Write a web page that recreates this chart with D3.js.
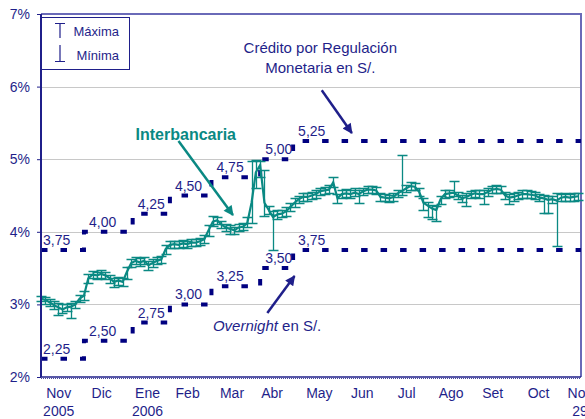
<!DOCTYPE html>
<html>
<head>
<meta charset="utf-8">
<script src="https://cdn.jsdelivr.net/npm/d3@7"></script>
<style>
  html, body { margin: 0; padding: 0; background: #fff; }
  svg { display: block; font-family: "Liberation Sans", Arial, sans-serif; }
</style>
</head>
<body>
<div id="chart"></div>
<script>
// ---------------------------------------------------------
// DATA – tasa interbancaria (cada 3 días) y corredor del BCRP
// ---------------------------------------------------------
const firstDay = "2005-11-18";
const stepDays = 3;

const interbank = [
  3.08, 3.06, 3.03, 2.99, 2.96, 2.93, 2.96, 2.97, 3.00, 3.08,
  3.12, 3.36, 3.41, 3.40, 3.42, 3.40, 3.36, 3.31, 3.33, 3.31,
  3.45, 3.57, 3.60, 3.58, 3.60, 3.54, 3.57, 3.60, 3.62, 3.76,
  3.82, 3.83, 3.82, 3.84, 3.83, 3.85, 3.85, 3.87, 3.90, 4.02,
  4.14, 4.16, 4.10, 4.06, 4.04, 4.02, 4.06, 4.07, 4.12, 4.40,
  4.82, 4.92, 4.40, 4.30, 4.20, 4.24, 4.25, 4.28, 4.34, 4.40,
  4.45, 4.48, 4.48, 4.50, 4.52, 4.56, 4.57, 4.58, 4.68, 4.46,
  4.52, 4.53, 4.52, 4.54, 4.52, 4.56, 4.58, 4.58, 4.57, 4.48,
  4.47, 4.46, 4.48, 4.53, 4.56, 4.60, 4.63, 4.62, 4.55, 4.40,
  4.36, 4.32, 4.30, 4.45, 4.52, 4.53, 4.54, 4.50, 4.46, 4.48,
  4.51, 4.53, 4.52, 4.52, 4.55, 4.58, 4.59, 4.58, 4.50, 4.47,
  4.48, 4.50, 4.52, 4.52, 4.51, 4.50, 4.47, 4.46, 4.44, 4.45,
  4.43, 4.47, 4.48, 4.47, 4.48, 4.49
];

const maxima = [
  3.12, 3.10, 3.08, 3.04, 3.02, 3.00, 3.01, 3.02, 3.05, 3.13,
  3.18, 3.42, 3.46, 3.45, 3.47, 3.45, 3.41, 3.37, 3.38, 3.36,
  3.52, 3.63, 3.65, 3.64, 3.65, 3.60, 3.62, 3.65, 3.67, 3.82,
  3.87, 3.88, 3.87, 3.89, 3.88, 3.90, 3.90, 3.92, 3.96, 4.10,
  4.22, 4.21, 4.15, 4.11, 4.09, 4.07, 4.11, 4.12, 4.20, 4.98,
  4.99, 4.98, 4.85, 4.36, 4.28, 4.30, 4.30, 4.34, 4.40, 4.46,
  4.50, 4.53, 4.53, 4.55, 4.58, 4.61, 4.62, 4.64, 4.75, 4.52,
  4.57, 4.59, 4.57, 4.60, 4.57, 4.61, 4.63, 4.63, 4.62, 4.53,
  4.52, 4.51, 4.53, 4.58, 5.06, 4.65, 4.68, 4.67, 4.61, 4.46,
  4.41, 4.37, 4.35, 4.50, 4.57, 4.58, 4.70, 4.55, 4.51, 4.53,
  4.56, 4.58, 4.57, 4.57, 4.60, 4.63, 4.64, 4.63, 4.55, 4.52,
  4.53, 4.55, 4.57, 4.57, 4.56, 4.55, 4.52, 4.51, 4.49, 4.50,
  4.53, 4.52, 4.53, 4.52, 4.53, 4.54
];

const minima = [
  3.04, 3.01, 2.98, 2.93, 2.85, 2.88, 2.91, 2.81, 2.95, 3.03,
  3.06, 3.30, 3.36, 3.35, 3.37, 3.35, 3.30, 3.24, 3.27, 3.25,
  3.35, 3.52, 3.55, 3.53, 3.55, 3.48, 3.52, 3.55, 3.57, 3.70,
  3.77, 3.78, 3.77, 3.79, 3.78, 3.80, 3.80, 3.82, 3.84, 3.94,
  4.08, 4.11, 4.05, 4.01, 3.97, 3.97, 4.01, 4.02, 4.06, 4.12,
  4.60, 4.75, 4.22, 4.24, 3.75, 4.18, 4.20, 4.22, 4.28, 4.34,
  4.40, 4.43, 4.43, 4.45, 4.47, 4.51, 4.52, 4.53, 4.62, 4.40,
  4.47, 4.48, 4.47, 4.49, 4.40, 4.51, 4.53, 4.53, 4.52, 4.43,
  4.42, 4.41, 4.43, 4.48, 4.51, 4.55, 4.58, 4.57, 4.49, 4.30,
  4.20, 4.18, 4.15, 4.38, 4.47, 4.48, 4.49, 4.45, 4.41, 4.35,
  4.46, 4.48, 4.47, 4.38, 4.50, 4.53, 4.54, 4.53, 4.45, 4.38,
  4.43, 4.45, 4.47, 4.47, 4.46, 4.45, 4.42, 4.26, 4.26, 4.40,
  3.80, 4.42, 4.43, 4.42, 4.43, 4.44
];

// corredor: crédito por regulación monetaria y overnight
const rateDates = ["2005-11-18", "2005-12-18", "2006-01-21", "2006-02-16",
                   "2006-03-17", "2006-04-20", "2006-05-13", "2006-11-30"];
const creditRate    = [3.75, 4.00, 4.25, 4.50, 4.75, 5.00, 5.25, 5.25];
const overnightRate = [2.25, 2.50, 2.75, 3.00, 3.25, 3.50, 3.75, 3.75];

// eje x
const xRange = ["2005-11-18", "2006-11-30"];
const monthTicks = ["2005-11-30", "2005-12-30", "2006-01-31", "2006-02-28",
                    "2006-03-31", "2006-04-28", "2006-05-31", "2006-06-30",
                    "2006-07-31", "2006-08-31", "2006-09-29", "2006-10-31",
                    "2006-11-29"];
const monthLabels = ["Nov\n2005", "Dic", "Ene\n2006", "Feb", "Mar", "Abr", "May",
                     "Jun", "Jul", "Ago", "Set", "Oct", "Nov\n29"];
const yTicks = [2, 3, 4, 5, 6, 7];

// ---------------------------------------------------------
// SETUP
// ---------------------------------------------------------
const width = 585, height = 419;
const margin = {top: 14, right: 4, bottom: 42, left: 41};
const navy = "#1f1f8a", teal = "#0a8983";

const parse = d3.timeParse("%Y-%m-%d");
const comma = d3.formatLocale({decimal: ",", thousands: ".", grouping: [3], currency: ["S/. ", ""]}).format(".2f");

const x = d3.scaleTime()
    .domain(xRange.map(parse))
    .range([margin.left, width - margin.right]);
const y = d3.scaleLinear()
    .domain([2, 7])
    .range([height - margin.bottom, margin.top]);

const svg = d3.select("#chart").append("svg")
    .attr("width", width)
    .attr("height", height)
    .style("background", "#fff");

const defs = svg.append("defs");
function arrowHead(id, color) {
  defs.append("marker")
      .attr("id", id)
      .attr("viewBox", "0 0 10 10")
      .attr("refX", 9).attr("refY", 5)
      .attr("markerUnits", "userSpaceOnUse")
      .attr("markerWidth", 11).attr("markerHeight", 10)
      .attr("orient", "auto")
    .append("path")
      .attr("d", "M0,0 L10,5 L0,10 z")
      .attr("fill", color);
}
arrowHead("arrowNavy", navy);
arrowHead("arrowTeal", teal);

// grid
svg.append("g")
  .selectAll("line")
  .data(yTicks.filter(d => d > 2 && d < 7))
  .join("line")
    .attr("x1", x.range()[0]).attr("x2", x.range()[1])
    .attr("y1", d => Math.round(y(d)) + 0.5).attr("y2", d => Math.round(y(d)) + 0.5)
    .attr("stroke", "#c8c8c8");

// frame: top and right
svg.append("path")
    .attr("d", `M${x.range()[0]},${y(7)}H${x.range()[1]}V${y(2)}`)
    .attr("fill", "none")
    .attr("stroke", "#6a6ab8")
    .attr("stroke-width", 2);

// ---------------------------------------------------------
// CORRIDOR (dashed steps)
// ---------------------------------------------------------
const rateDatesP = rateDates.map(parse);
const stepLine = d3.line()
    .x(d => x(d[0]))
    .y(d => y(d[1]))
    .curve(d3.curveStepAfter);

[creditRate, overnightRate].forEach(rates => {
  svg.append("path")
      .datum(rateDatesP.map((d, i) => [d, rates[i]]))
      .attr("d", stepLine)
      .attr("fill", "none")
      .attr("stroke", "#000080")
      .attr("stroke-width", 4)
      .attr("stroke-dasharray", "6.5,13");

  svg.append("g")
    .selectAll("text")
    .data(rates.slice(0, -1))
    .join("text")
      .attr("x", (d, i) => x(rateDatesP[i]) + (i ? 5 : 2))
      .attr("y", d => y(d) - 5)
      .attr("fill", navy)
      .attr("font-size", 14)
      .text(d => comma(d));
});

// ---------------------------------------------------------
// INTERBANK – error bars + line
// ---------------------------------------------------------
const series = interbank.map((v, i) => ({
  date: d3.timeDay.offset(parse(firstDay), i * stepDays),
  value: v, hi: maxima[i], lo: minima[i]
}));

const bars = svg.append("g")
    .attr("stroke", teal)
    .attr("stroke-width", 1.3);

bars.selectAll(".whisker")
  .data(series)
  .join("path")
    .attr("class", "whisker")
    .attr("fill", "none")
    .attr("d", d => {
      const cx = Math.round(x(d.date)) + 0.5;
      const yh = Math.round(y(d.hi)) + 0.5, yl = Math.round(y(d.lo)) + 0.5;
      return `M${cx},${yh}V${yl}M${cx - 5},${yh}H${cx + 5}M${cx - 5},${yl}H${cx + 5}`;
    });

svg.append("path")
    .datum(series)
    .attr("d", d3.line().x(d => x(d.date)).y(d => y(d.value)))
    .attr("fill", "none")
    .attr("stroke", teal)
    .attr("stroke-width", 2.2);

// ---------------------------------------------------------
// AXES
// ---------------------------------------------------------
const yAxis = svg.append("g")
    .attr("transform", `translate(${margin.left},0)`)
    .call(d3.axisLeft(y).tickValues(yTicks).tickSize(4).tickPadding(7).tickFormat(d => d + "%"));
yAxis.select(".domain").remove();
yAxis.selectAll(".tick line").attr("stroke", navy);
yAxis.selectAll(".tick text")
    .attr("fill", navy)
    .attr("font-size", 14)
    .attr("font-family", "Liberation Sans, Arial, sans-serif");

svg.append("line")
    .attr("x1", margin.left).attr("x2", margin.left)
    .attr("y1", y(7)).attr("y2", y(2))
    .attr("stroke", navy)
    .attr("stroke-width", 2);

const xAxis = svg.append("g")
    .attr("transform", `translate(0,${y(2)})`)
    .call(d3.axisBottom(x).tickValues(monthTicks.map(parse)).tickSize(0).tickPadding(11));
xAxis.select(".domain").remove();
xAxis.selectAll(".tick text")
    .attr("fill", navy)
    .attr("font-size", 14)
    .attr("font-family", "Liberation Sans, Arial, sans-serif")
    .attr("dy", null)
    .each(function (d, i) {
      const t = d3.select(this).text(null);
      monthLabels[i].split("\n").forEach((line, j) => {
        t.append("tspan").attr("x", 0).attr("dy", j ? "1.3em" : "0.71em").text(line);
      });
    });

svg.append("line")
    .attr("x1", margin.left).attr("x2", width - margin.right)
    .attr("y1", y(2)).attr("y2", y(2))
    .attr("stroke", navy).attr("stroke-width", 1.5);
svg.append("line")
    .attr("x1", margin.left).attr("x2", width - margin.right)
    .attr("y1", y(2) + 1.5).attr("y2", y(2) + 1.5)
    .attr("stroke", "#4b4ba0").attr("stroke-width", 1)
    .attr("stroke-dasharray", "1,1");

// ---------------------------------------------------------
// LEGEND
// ---------------------------------------------------------
const legend = svg.append("g").attr("transform", `translate(${margin.left},${margin.top})`);
legend.append("rect")
    .attr("x", 0.5).attr("y", 3.5)
    .attr("width", 88).attr("height", 52)
    .attr("fill", "#fff")
    .attr("stroke", navy);
legend.append("path")
    .attr("d", "M14,9.5H24M19,9.5V24M19,31V47.5M14,47.5H24")
    .attr("fill", "none")
    .attr("stroke", navy)
    .attr("stroke-width", 1.2);
legend.selectAll("text")
  .data(["Máxima", "Mínima"])
  .join("text")
    .attr("x", 78).attr("y", (d, i) => 22 + i * 24)
    .attr("text-anchor", "end")
    .attr("fill", navy)
    .attr("font-size", 13)
    .text(d => d);

// ---------------------------------------------------------
// ANNOTATIONS
// ---------------------------------------------------------
const at = (date, v) => [x(parse(date)), y(v)];

const credit = svg.append("text")
    .attr("fill", navy)
    .attr("font-size", 15)
    .attr("text-anchor", "middle");
credit.append("tspan").attr("x", at("2006-06-01", 0)[0]).attr("y", y(6.46)).text("Crédito por Regulación");
credit.append("tspan").attr("x", at("2006-06-01", 0)[0]).attr("y", y(6.19)).text("Monetaria en S/.");

function arrow(from, to, color, marker) {
  const a = at(...from), b = at(...to);
  svg.append("line")
      .attr("x1", a[0]).attr("y1", a[1])
      .attr("x2", b[0]).attr("y2", b[1])
      .attr("stroke", color)
      .attr("stroke-width", 2.5)
      .attr("marker-end", `url(#${marker})`);
}
arrow(["2006-06-02", 5.95], ["2006-06-23", 5.36], navy, "arrowNavy");
arrow(["2006-02-22", 5.25], ["2006-04-01", 4.23], teal, "arrowTeal");
arrow(["2006-04-25", 2.88], ["2006-05-14", 3.39], navy, "arrowNavy");

svg.append("text")
    .attr("x", at("2006-01-23", 0)[0]).attr("y", y(5.27))
    .attr("fill", teal)
    .attr("font-size", 16)
    .attr("font-weight", "bold")
    .text("Interbancaria");

const overnight = svg.append("text")
    .attr("x", at("2006-03-18", 0)[0]).attr("y", y(2.63))
    .attr("fill", navy)
    .attr("font-size", 15);
overnight.append("tspan").attr("font-style", "italic").text("Overnight");
overnight.append("tspan").text(" en S/.");
</script>
</body>
</html>
